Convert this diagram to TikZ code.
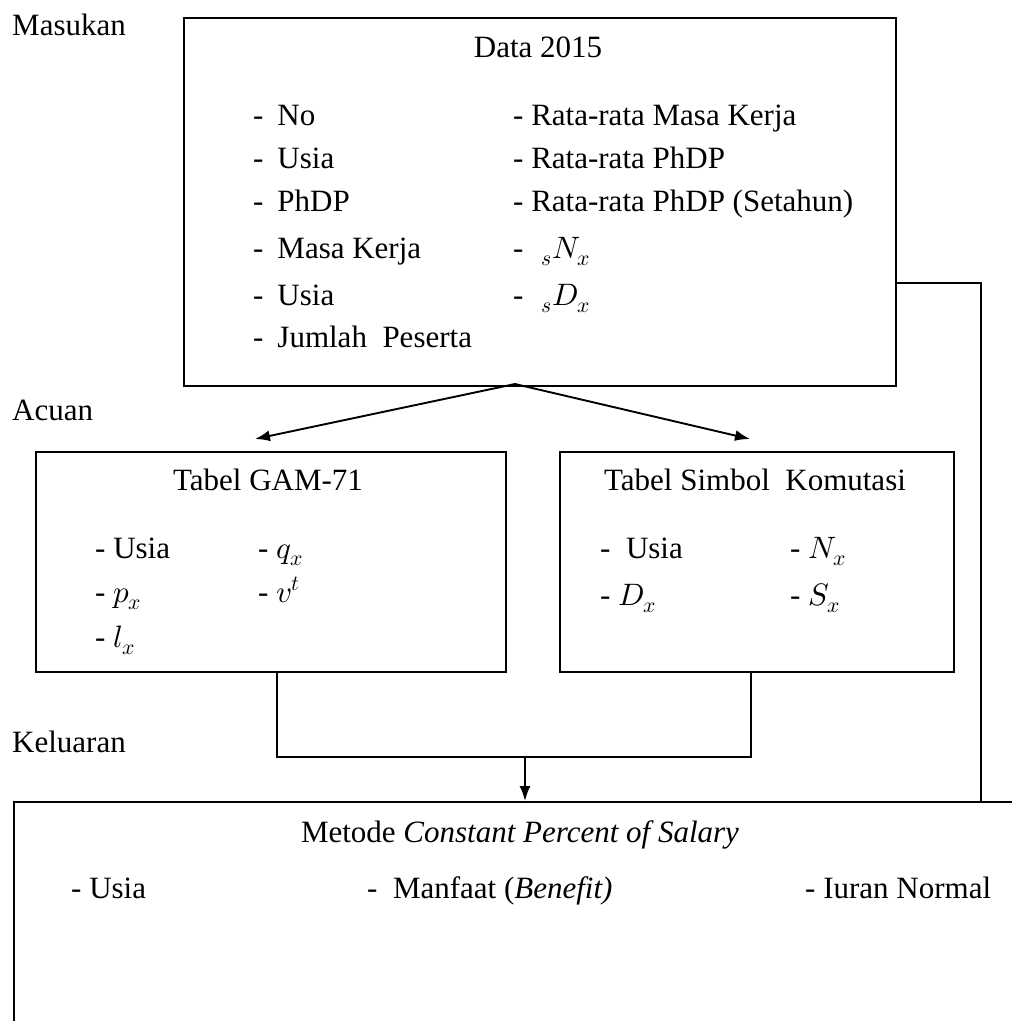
\documentclass[tikz,border=0pt]{standalone}
\usepackage{fontspec}
\usepackage{unicode-math}
\setmainfont{Liberation Serif}
\setmathfont{Latin Modern Math}
\usetikzlibrary{arrows.meta}
\tikzset{
  box/.style={draw, line width=1.9pt, rectangle, inner sep=0pt, anchor=north west},
  txt/.style={anchor=base west, inner sep=0pt, font=\fontsize{31}{37}\selectfont},
  ctxt/.style={anchor=base, inner sep=0pt, font=\fontsize{31}{37}\selectfont},
  line/.style={line width=1.9pt},
  arr/.style={line width=1.9pt, -{Latex[length=15pt,width=11pt]}}
}
\newcommand{\dd}{-\hspace{0.45em}}
\begin{document}
\begin{tikzpicture}[x=1pt,y=-1pt]
\useasboundingbox (0,0) rectangle (1012,1021);
\clip (0,0) rectangle (1012,1021);
% labels
\node[txt] (lmas) at (12,35) {Masukan};
\node[txt] (lacu) at (12,420) {Acuan};
\node[txt] (lkel) at (12,752) {Keluaran};
% top box
\node[box, minimum width=712pt, minimum height=368pt] (top) at (183,17) {};
\node[ctxt] (ttitle) at (538,57) {Data 2015};
\node[txt] (a1) at (253,125) {\dd No};
\node[txt] (a2) at (253,168) {\dd Usia};
\node[txt] (a3) at (253,211) {\dd PhDP};
\node[txt] (a4) at (253,258) {\dd Masa Kerja};
\node[txt] (a5) at (253,305) {\dd Usia};
\node[txt] (a6) at (253,347) {\dd Jumlah\ \ Peserta};
\node[txt] (b1) at (513,125) {- Rata-rata\ Masa\ Kerja};
\node[txt] (b2) at (513,168) {- Rata-rata\ PhDP};
\node[txt] (b3) at (513,211) {- Rata-rata\ PhDP\ (Setahun)};
\node[txt] (b4) at (513,258) {-\hspace{0.3em}$\;{}_sN_x$};
\node[txt] (b5) at (513,305) {-\hspace{0.3em}$\;{}_sD_x$};
% GAM box
\node[box, minimum width=470pt, minimum height=220pt] (gam) at (35,451) {};
\node[ctxt] (gtitle) at (268,490) {Tabel GAM-71};
\node[txt] (g1) at (95,558) {- Usia};
\node[txt] (g2) at (258,558) {- $q_x$};
\node[txt] (g3) at (95,602) {- $p_x$};
\node[txt] (g4) at (258,602) {- $v^t$};
\node[txt] (g5) at (95,647) {- $l_x$};
% komutasi box
\node[box, minimum width=394pt, minimum height=220pt] (kom) at (559,451) {};
\node[ctxt] (ktitle) at (755,490) {Tabel Simbol\ \ Komutasi};
\node[txt] (k1) at (600,558) {- \ Usia};
\node[txt] (k2) at (790,558) {- $N_x$};
\node[txt] (k3) at (600,605) {- $D_x$};
\node[txt] (k4) at (790,605) {- $S_x$};
% bottom box
\node[box, minimum width=1030pt, minimum height=260pt] (bot) at (13,801) {};
\node[ctxt] (btitle) at (520,842) {Metode \textit{Constant Percent of Salary}};
\node[txt] (c1) at (71,898) {- Usia};
\node[txt] (c2) at (367,898) {-\ \ Manfaat\ (\textit{Benefit)}};
\node[txt] (c3) at (805,898) {- Iuran Normal};
% connectors
\coordinate (split) at (515,384);
\coordinate (tipL) at (255,439);
\coordinate (tipR) at (750,439);
\draw[arr] (split) -- (tipL);
\draw[arr] (split) -- (tipR);
\coordinate (gdown) at (277,671);
\coordinate (kdown) at (751,671);
\coordinate (mergeL) at (277,757);
\coordinate (mergeR) at (751,757);
\coordinate (mergeM) at (525,757);
\coordinate (mdst) at (525,801);
\draw[line] (gdown) -- (mergeL) -- (mergeR) -- (kdown);
\draw[arr] (mergeM) -- (mdst);
\coordinate (tr) at (895,283);
\coordinate (trc) at (981,283);
\coordinate (trd) at (981,801);
\draw[line] (tr) -- (trc) -- (trd);
\end{tikzpicture}
\end{document}
